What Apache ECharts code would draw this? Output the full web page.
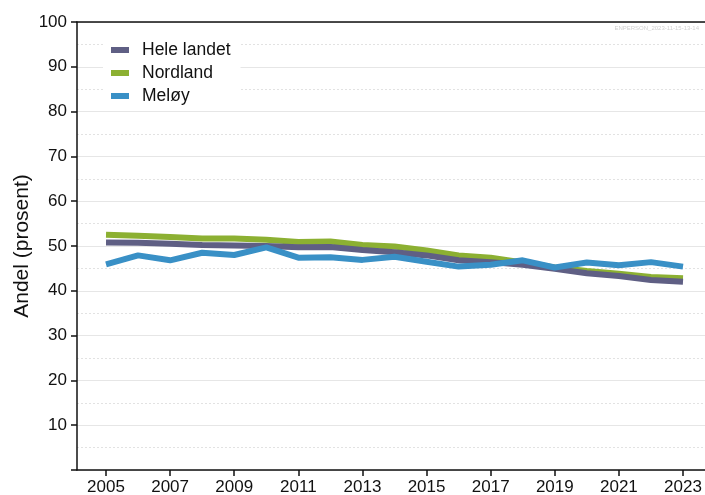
<!DOCTYPE html>
<html>
<head>
<meta charset="utf-8">
<script src="https://cdn.jsdelivr.net/npm/echarts@6/dist/echarts.min.js"></script>
<style>
  html, body { margin: 0; padding: 0; background: #fff; }
  #chart { width: 705px; height: 495px; }
</style>
</head>
<body>
<div id="chart"></div>
<script>
// years on the x axis
const years = [2005, 2006, 2007, 2008, 2009, 2010, 2011, 2012, 2013, 2014,
  2015, 2016, 2017, 2018, 2019, 2020, 2021, 2022, 2023];
const yearTicks = [2005, 2007, 2009, 2011, 2013, 2015, 2017, 2019, 2021, 2023];

const heleLandet = [50.8, 50.7, 50.5, 50.2, 50.1, 50.0, 49.7, 49.8, 49.1, 48.6,
  47.9, 46.8, 46.4, 45.8, 44.9, 43.9, 43.3, 42.4, 42.0];
const nordland = [52.5, 52.3, 52.0, 51.7, 51.7, 51.4, 50.9, 51.0, 50.2, 49.9,
  49.0, 47.9, 47.4, 46.3, 45.2, 44.4, 43.8, 43.1, 42.8];
const meloy = [45.9, 47.9, 46.8, 48.5, 48.0, 49.7, 47.4, 47.5, 46.9, 47.6,
  46.5, 45.4, 45.8, 46.8, 45.2, 46.3, 45.7, 46.4, 45.4];

const pairs = vals => years.map((y, i) => [y, vals[i]]);

const chart = echarts.init(document.getElementById('chart'));
const font = 'Liberation Sans, Arial, sans-serif';

chart.setOption({
  animation: false,
  textStyle: { fontFamily: font },
  grid: { left: 77, right: 0, top: 22, bottom: 25, containLabel: false, outerBoundsMode: 'none' },
  legend: {
    orient: 'vertical',
    left: 103,
    top: 38,
    padding: [3, 10, 3, 8],
    backgroundColor: '#ffffff',
    icon: 'rect',
    itemWidth: 18,
    itemHeight: 6,
    itemGap: 5,
    textStyle: { fontSize: 17.5, color: '#111', fontFamily: font, padding: [0, 0, 0, 8] },
    data: ['Hele landet', 'Nordland', 'Meløy']
  },
  graphic: [{
    type: 'text',
    right: 6,
    top: 25,
    style: { text: 'ENPERSON_2023-11-15-13-14', fontSize: 6, fill: '#d0d0d0', fontFamily: font }
  }],
  xAxis: [{
    type: 'value',
    min: 2004.095,
    max: 2023.686,
    axisLine: { show: true, lineStyle: { color: '#111', width: 1.5 } },
    axisTick: { show: true, length: 6, customValues: yearTicks, lineStyle: { color: '#111', width: 1.5 } },
    axisLabel: {
      customValues: yearTicks, fontSize: 17, color: '#111', margin: 9, fontFamily: font,
      formatter: v => String(v)
    },
    splitLine: { show: false }
  }, {
    type: 'value',
    position: 'top',
    min: 0,
    max: 1,
    axisLine: { show: true, onZero: false, lineStyle: { color: '#111', width: 1.5 } },
    axisTick: { show: false },
    axisLabel: { show: false },
    splitLine: { show: false }
  }],
  yAxis: {
    type: 'value',
    min: 0,
    max: 100,
    interval: 10,
    name: 'Andel (prosent)',
    nameLocation: 'middle',
    nameGap: 44,
    nameMoveOverlap: false,
    nameTextStyle: { fontSize: 21, color: '#111', fontFamily: font },
    axisLine: { show: true, lineStyle: { color: '#111', width: 1.5 } },
    axisTick: { show: true, length: 6, lineStyle: { color: '#111', width: 1.5 } },
    axisLabel: {
      fontSize: 17, color: '#111', margin: 10, fontFamily: font,
      formatter: v => (v === 0 ? '' : String(v))
    },
    splitLine: { show: true, lineStyle: { color: '#e6e6e6', width: 1 } },
    minorTick: { show: false, splitNumber: 2 },
    minorSplitLine: { show: true, lineStyle: { color: '#e2e2e2', width: 1, type: [2, 2] } }
  },
  series: [{
    name: 'Hele landet',
    type: 'line',
    data: pairs(heleLandet),
    showSymbol: false,
    color: '#5f5f84',
    lineStyle: { width: 6 },
    z: 3
  }, {
    name: 'Nordland',
    type: 'line',
    data: pairs(nordland),
    showSymbol: false,
    color: '#8cb032',
    lineStyle: { width: 6 },
    z: 2
  }, {
    name: 'Meløy',
    type: 'line',
    data: pairs(meloy),
    showSymbol: false,
    color: '#3990c6',
    lineStyle: { width: 6 },
    z: 4
  }]
});
</script>
</body>
</html>
